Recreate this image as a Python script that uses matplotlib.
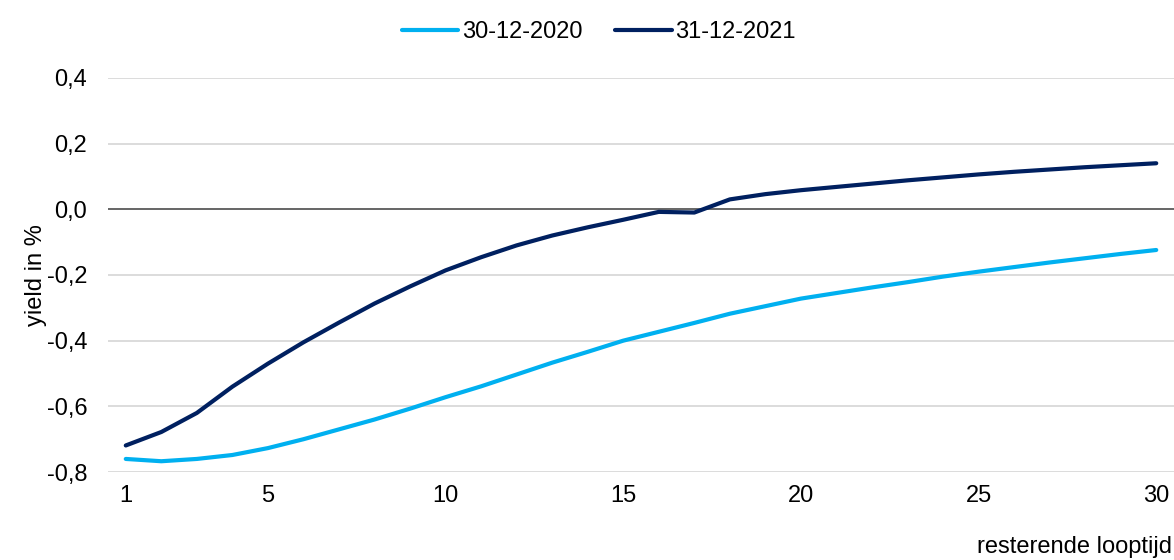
import matplotlib.pyplot as plt

plt.rcParams['font.family'] = ['Liberation Sans', 'DejaVu Sans']

maturity = list(range(1, 31))
tick_labels = [1, 5, 10, 15, 20, 25, 30]
yield_2020 = [-0.760, -0.767, -0.760, -0.748, -0.727, -0.700, -0.670, -0.640, -0.607, -0.572,
              -0.539, -0.503, -0.467, -0.434, -0.400, -0.373, -0.346, -0.318, -0.295, -0.272,
              -0.255, -0.238, -0.222, -0.205, -0.190, -0.176, -0.162, -0.149, -0.136, -0.124]
yield_2021 = [-0.719, -0.678, -0.620, -0.540, -0.470, -0.405, -0.345, -0.287, -0.235, -0.186,
              -0.146, -0.110, -0.080, -0.055, -0.032, -0.008, -0.010, 0.030, 0.046, 0.058,
              0.068, 0.078, 0.088, 0.097, 0.106, 0.114, 0.121, 0.128, 0.134, 0.140]
series_names = ['30-12-2020', '31-12-2021']

fs = 17

fig = plt.figure(figsize=(11.74, 5.6), dpi=100)
ax = fig.add_axes([0.092, 0.157, 0.908, 0.704])

ax.plot(maturity, yield_2020, color='#00B0F0', lw=3, solid_capstyle='round', label=series_names[0])
ax.plot(maturity, yield_2021, color='#002060', lw=3, solid_capstyle='round', label=series_names[1])

ax.set_xlim(0.5, 30.5)
ax.set_ylim(-0.8, 0.4)
yticks = [-0.8, -0.6, -0.4, -0.2, 0.0, 0.2, 0.4]
ax.set_yticks(yticks)
ax.set_yticklabels([f'{v:.1f}'.replace('.', ',') for v in yticks])
ax.set_xticks(tick_labels)
ax.set_xticklabels([str(t) for t in tick_labels])

for v in yticks:
    if v == 0:
        ax.axhline(v, color='#595959', lw=1.3, zorder=1)
    else:
        ax.axhline(v, color='#D9D9D9', lw=1.3, zorder=0)

for s in ax.spines.values():
    s.set_visible(False)
ax.tick_params(axis='both', length=0, labelsize=fs, colors='black')
ax.tick_params(axis='x', pad=9)
ax.tick_params(axis='y', pad=15)

ax.set_ylabel('yield in %', fontsize=fs, labelpad=0)
fig.text(0.998, 0.004, 'resterende looptijd', ha='right', va='bottom', fontsize=fs)

fig.legend(loc='upper center', bbox_to_anchor=(0.51, 1.0), ncol=2, frameon=False,
           fontsize=fs, handlelength=2.4, handletextpad=0.15, columnspacing=1.4)

plt.savefig('out.png', dpi=100)
